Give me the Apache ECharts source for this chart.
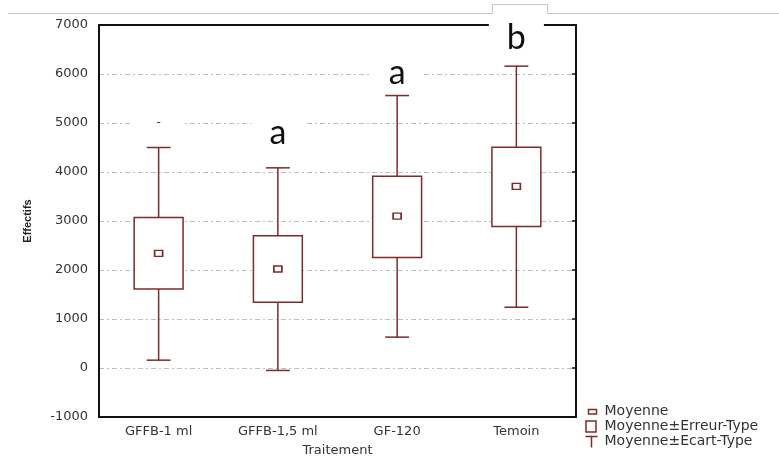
<!DOCTYPE html>
<html>
<head>
<meta charset="utf-8">
<script src="https://cdn.jsdelivr.net/npm/echarts@6/dist/echarts.min.js"></script>
<style>
  html, body { margin: 0; padding: 0; background: #fff; }
  #chart { width: 779px; height: 462px; }
</style>
</head>
<body>
<div id="chart"></div>
<script>
// categories and values
var categories = ['GFFB-1 ml', 'GFFB-1,5 ml', 'GF-120', 'Temoin'];
var means = [2340, 2020, 3100, 3705];
var seLow = [1610, 1340, 2255, 2890];
var seHigh = [3070, 2700, 3915, 4505];
var sdLow = [160, -50, 630, 1240];
var sdHigh = [4500, 4085, 5560, 6160];
// group letters above the boxes
var letterTexts = ['-', 'a', 'a', 'b'];
var letterValues = [5000, 4800, 6020, 6730];
var yTicks = { min: -1000, max: 7000, step: 1000 };

var maroon = '#7d2a2a';
var axisFont = 'DejaVu Sans';

function renderWhisker(params, api) {
  var cat = api.value(0);
  var lo = api.coord([cat, api.value(1)]);
  var hi = api.coord([cat, api.value(2)]);
  var half = api.size([1, 0])[0] * 0.1;
  function seg(x1, y1, x2, y2) {
    return { type: 'line', shape: { x1: x1, y1: y1, x2: x2, y2: y2 }, style: { stroke: maroon, lineWidth: 1.5 } };
  }
  return {
    type: 'group',
    children: [
      seg(lo[0], lo[1], hi[0], hi[1]),
      seg(hi[0] - half, hi[1], hi[0] + half, hi[1]),
      seg(lo[0] - half, lo[1], lo[0] + half, lo[1])
    ]
  };
}

function renderBox(params, api) {
  var cat = api.value(0);
  var lo = api.coord([cat, api.value(1)]);
  var hi = api.coord([cat, api.value(2)]);
  var half = api.size([1, 0])[0] * 0.205;
  return {
    type: 'rect',
    shape: { x: lo[0] - half, y: hi[1], width: half * 2, height: lo[1] - hi[1] },
    style: { fill: '#fff', stroke: maroon, lineWidth: 1.5 }
  };
}

var whiskerData = categories.map((c, i) => [i, sdLow[i], sdHigh[i]]);
var boxData = categories.map((c, i) => [i, seLow[i], seHigh[i]]);
var meanData = categories.map((c, i) => [i, means[i]]);
var letterData = categories.map((c, i) => {
  var item = { value: [i, letterValues[i]], text: letterTexts[i] };
  if (letterTexts[i] === '-') {
    item.label = { fontSize: 12, fontFamily: axisFont, color: '#444', padding: [4, 24] };
  }
  return item;
});

const myChart = echarts.init(document.getElementById('chart'), null, { renderer: 'canvas' });

var legendIconStyle = { color: 'none', borderColor: maroon, borderWidth: 1.5 };

let option = {
  animation: false,
  backgroundColor: '#fff',
  grid: { left: 99, right: 203, top: 25, bottom: 42 },
  legend: {
    orient: 'vertical',
    left: 583,
    top: 402,
    height: 60,
    padding: 0,
    itemWidth: 14,
    itemHeight: 14,
    itemGap: -4,
    selectedMode: false,
    textStyle: { fontFamily: axisFont, fontSize: 14, lineHeight: 14, color: '#333' },
    data: [
      { name: 'Moyenne', icon: 'path://M0,0L0,0M14,14L14,14M3,5h8v4.5h-8z', itemStyle: legendIconStyle },
      { name: 'Moyenne±Erreur-Type', icon: 'path://M0,0L0,0M14,14L14,14M0.5,1.5h10v11h-10z', itemStyle: legendIconStyle },
      { name: 'Moyenne±Ecart-Type', icon: 'path://M0,0L0,0M14,14L14,14M0,2H12M6,2V13', itemStyle: legendIconStyle }
    ]
  },
  xAxis: [{
    type: 'category',
    data: categories,
    boundaryGap: true,
    name: 'Traitement',
    nameLocation: 'middle',
    nameGap: 27,
    nameTextStyle: { fontFamily: axisFont, fontSize: 13, color: '#333' },
    axisLine: { onZero: false, lineStyle: { color: '#111', width: 2 } },
    axisTick: { alignWithLabel: true, inside: true, length: 5, lineStyle: { color: '#111', width: 1.5 } },
    axisLabel: { margin: 8, fontFamily: axisFont, fontSize: 13, color: '#333' },
    splitLine: { show: false }
  }, {
    type: 'category',
    data: categories,
    position: 'top',
    boundaryGap: true,
    axisLine: { onZero: false, lineStyle: { color: '#111', width: 2 } },
    axisTick: { alignWithLabel: true, inside: true, length: 4, lineStyle: { color: '#111', width: 1.5 } },
    axisLabel: { show: false },
    splitLine: { show: false }
  }],
  yAxis: [{
    type: 'value',
    min: yTicks.min,
    max: yTicks.max,
    interval: yTicks.step,
    name: 'Effectifs',
    nameLocation: 'middle',
    nameGap: 66,
    nameTextStyle: { fontFamily: 'Liberation Sans Narrow, Liberation Sans', fontWeight: 'bold', fontSize: 11, color: '#222' },
    axisLine: { show: true, onZero: false, lineStyle: { color: '#111', width: 2 } },
    axisTick: { show: false },
    axisLabel: { margin: 11, fontFamily: axisFont, fontSize: 13, color: '#333', formatter: v => String(v) },
    splitLine: { show: true, lineStyle: { color: '#bdbdbd', width: 1, type: [5, 3, 2, 3] } }
  }, {
    type: 'value',
    position: 'right',
    min: yTicks.min,
    max: yTicks.max,
    interval: yTicks.step,
    axisLine: { show: true, onZero: false, lineStyle: { color: '#111', width: 2 } },
    axisTick: { show: true, inside: true, length: 4, lineStyle: { color: '#111', width: 1.5 } },
    axisLabel: { show: false },
    splitLine: { show: false }
  }],
  graphic: [{
    // header rule of the page the figure was pasted in
    type: 'polyline',
    z: 1,
    shape: { points: [[8, 13.5], [492.5, 13.5], [492.5, 4.5], [547.5, 4.5], [547.5, 13.5], [779, 13.5]] },
    style: { stroke: '#c4c4c4', fill: null, lineWidth: 1 }
  }],
  series: [{
    name: 'Moyenne±Ecart-Type',
    type: 'custom',
    renderItem: renderWhisker,
    encode: { x: 0, y: [1, 2] },
    data: whiskerData,
    z: 2
  }, {
    name: 'Moyenne±Erreur-Type',
    type: 'custom',
    renderItem: renderBox,
    encode: { x: 0, y: [1, 2] },
    data: boxData,
    z: 3
  }, {
    name: 'Moyenne',
    type: 'scatter',
    symbol: 'rect',
    symbolSize: [8, 6],
    itemStyle: { color: '#fff', borderColor: maroon, borderWidth: 1.5, opacity: 1 },
    data: meanData,
    z: 4
  }, {
    name: 'letters',
    type: 'scatter',
    symbolSize: 1,
    itemStyle: { color: 'rgba(0,0,0,0)', opacity: 1 },
    label: {
      show: true,
      position: 'inside',
      formatter: p => p.data.text,
      fontFamily: 'Lato',
      fontSize: 34,
      color: '#111',
      backgroundColor: '#fff',
      padding: [2, 18]
    },
    data: letterData,
    z: 5
  }]
};

myChart.setOption(option);
</script>
</body>
</html>
